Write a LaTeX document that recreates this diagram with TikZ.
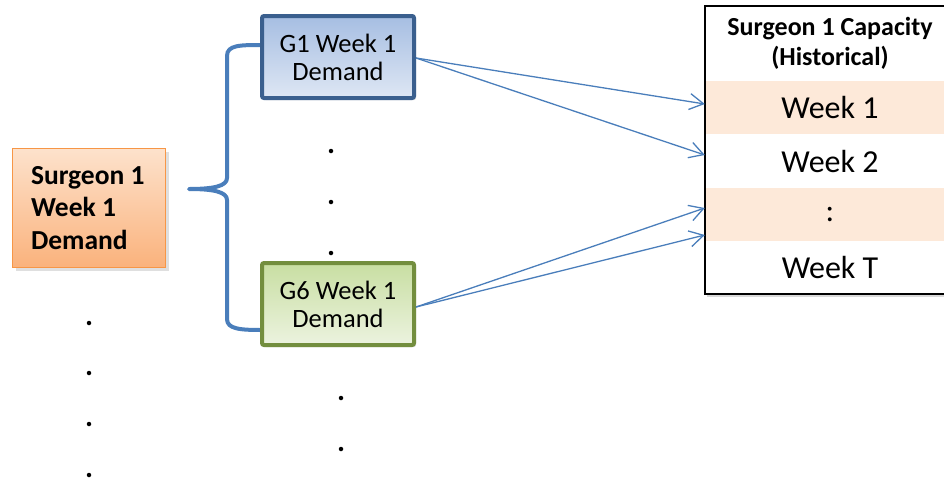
\documentclass[tikz,border=0pt]{standalone}
\usepackage{fontspec}
\setmainfont{Carlito}
\usetikzlibrary{arrows.meta,shadows,calc}
\definecolor{linkblue}{HTML}{4A7EBB}
\definecolor{gonebd}{HTML}{3A5F8E}
\definecolor{gonetop}{HTML}{A6BEE2}
\definecolor{gonebot}{HTML}{DEE7F4}
\definecolor{gsixbd}{HTML}{738E3E}
\definecolor{gsixtop}{HTML}{C8DEA2}
\definecolor{gsixbot}{HTML}{ECF3DF}
\definecolor{orbd}{HTML}{F79646}
\definecolor{ortop}{HTML}{FDE2CC}
\definecolor{orbot}{HTML}{FAB27C}
\definecolor{peach}{HTML}{FDE9D9}
\newcommand\natsp{\spaceskip=0pt\xspaceskip=0pt\relax}
\tikzset{
  gbox/.style={rectangle, rounded corners=2pt, line width=4pt, minimum width=152pt, minimum height=82pt,
    align=center, font=\fontsize{26.5}{28}\selectfont, inner sep=0pt,
    drop shadow={shadow xshift=2pt, shadow yshift=-2pt, opacity=0.25}},
  obox/.style={rectangle, line width=1.5pt, draw=orbd, top color=ortop, bottom color=orbot,
    minimum width=153pt, minimum height=119pt, text width=116pt, align=left, inner sep=0pt,
    font=\bfseries\fontsize{27.5}{32.5}\selectfont,
    drop shadow={shadow xshift=3pt, shadow yshift=-3pt, opacity=0.25}},
  rowbox/.style={rectangle, draw=none, minimum width=250pt, minimum height=53pt, inner sep=0pt,
    font=\fontsize{32}{36}\selectfont},
  dotc/.style={circle, fill=black, inner sep=0pt, minimum size=4.5pt},
  arr/.style={draw=linkblue, line width=1.3pt, -{Straight Barb[length=14pt,width=16pt,line width=1.3pt]}},
  bracestyle/.style={draw=linkblue, line width=4pt, line cap=round, line join=round}
}
\begin{document}
\begin{tikzpicture}[x=1pt,y=-1pt]
\useasboundingbox (0,0) rectangle (944,480);
\clip (0,0) rectangle (944,480);

% table background and shadow
\path[fill=white, drop shadow={shadow xshift=2pt, shadow yshift=-3pt, opacity=0.3}] (705,6) rectangle (960,294);
\node[rectangle, minimum width=250pt, minimum height=75pt, inner sep=0pt, align=center,
  font=\bfseries\fontsize{26}{30}\selectfont] (hdr) at (830,43.5) {\natsp Surgeon 1 Capacity\\(Historical)};
\node[rowbox, fill=peach] (r1) at (830,107.5) {Week 1};
\node[rowbox] (r2) at (830,161) {Week 2};
\node[rowbox, fill=peach] (r3) at (830,214.5) {:};
\node[rowbox] (r4) at (830,267.5) {Week T};
\draw[line width=2pt, black] (705,6) rectangle (960,294);

% brace
\coordinate (btop) at (262,45);
\coordinate (btip) at (189,189);
\coordinate (bbot) at (262,330);
\draw[bracestyle] (btop) .. controls (240,45) and (227,45) .. (227,56) -- (227,178)
  .. controls (227,186) and (214,189) .. (btip)
  .. controls (214,189) and (227,192) .. (227,200) -- (227,319)
  .. controls (227,329) and (240,330) .. (bbot);

% boxes
\node[obox] (sd) at (89,208) {\natsp Surgeon 1\\Week 1\\Demand};
\node[gbox, draw=gonebd, top color=gonetop, bottom color=gonebot] (g1) at (338,57) {\natsp G1 Week 1\\Demand};
\node[gbox, draw=gsixbd, top color=gsixtop, bottom color=gsixbot] (g6) at (338,304) {\natsp G6 Week 1\\Demand};

% arrows
\draw[arr] ($(g1.east)+(0,1)$) -- ($(r1.west)+(0,-3.5)$);
\draw[arr] ($(g1.east)+(0,1)$) -- ($(r2.west)+(0,-6)$);
\draw[arr] ($(g6.east)+(0,3)$) -- ($(r3.west)+(0,-6.5)$);
\draw[arr] ($(g6.east)+(0,3)$) -- ($(r3.west)+(0,20.5)$);

% dots
\node[dotc] (m1) at (331,151) {};
\node[dotc] (m2) at (331,202) {};
\node[dotc] (m3) at (331,253) {};
\node[dotc] (b1) at (341,398) {};
\node[dotc] (b2) at (341,449) {};
\node[dotc] (l1) at (89,323) {};
\node[dotc] (l2) at (89,373) {};
\node[dotc] (l3) at (89,424) {};
\node[dotc] (l4) at (89,475) {};
\end{tikzpicture}
\end{document}
